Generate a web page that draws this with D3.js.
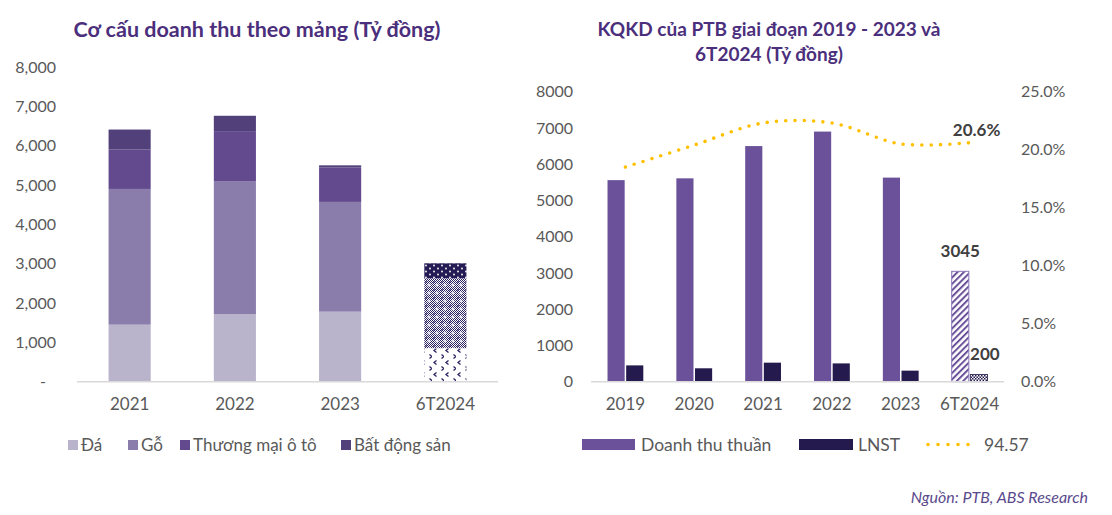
<!DOCTYPE html>
<html><head><meta charset="utf-8">
<script src="https://cdn.jsdelivr.net/npm/d3@7"></script>
<style>body{margin:0;background:#fff;} svg{display:block;font-family:Lato,'Open Sans',sans-serif;}</style>
</head><body><svg id="c" width="1112" height="515"></svg>
<script>
// ---------- data: left chart ----------
const segCategories = ["2021", "2022", "2023", "6T2024"];
const segKeys = ["Đá", "Gỗ", "Thương mại ô tô", "Bất động sản"];
const daValues = [1450, 1720, 1780, 850];
const goValues = [3450, 3380, 2790, 1780];
const tmValues = [1000, 1270, 880, 380];
const bdsValues = [510, 390, 50, 0];
const leftTicks = [0, 1000, 2000, 3000, 4000, 5000, 6000, 7000, 8000];
const leftTitle = "Cơ cấu doanh thu theo mảng (Tỷ đồng)";

// ---------- data: right chart ----------
const kqCategories = ["2019", "2020", "2021", "2022", "2023", "6T2024"];
const revenueValues = [5560, 5610, 6500, 6900, 5630, 3045];
const profitValues = [450, 370, 525, 505, 305, 200];
const marginValues = [0.185, 0.204, 0.223, 0.223, 0.205, 0.206];
const rightTicks = [0, 1000, 2000, 3000, 4000, 5000, 6000, 7000, 8000];
const pctTicks = [0, 0.05, 0.10, 0.15, 0.20, 0.25];
const rightTitle = ["KQKD của PTB giai đoạn 2019 - 2023 và", "6T2024 (Tỷ đồng)"];
const rightLegend = ["Doanh thu thuần", "LNST", "94.57"];
const sourceText = "Nguồn: PTB, ABS Research";

// ---------- styles ----------
const segColors = ["#b9b3cb", "#8a7dab", "#634a8e", "#52407a"];
const revColor = "#6a519a", lnstColor = "#251a4d", lineColor = "#ffc000";
const navy = "#2a2060";
const titleColor = "#4b2f7c", tickColor = "#595959", axisColor = "#d9d9d9";
const FONT = "Lato,'Open Sans',sans-serif";

const svg = d3.select("#c");
const defs = svg.append("defs");

// patterns
const pDa = defs.append("pattern").attr("id", "pDa").attr("patternUnits", "userSpaceOnUse")
  .attr("width", 12).attr("height", 12);
pDa.append("rect").attr("width", 12).attr("height", 12).attr("fill", "#fff");
pDa.append("path").attr("d", "M4.5,0.5 L2,2.5 L4.5,4.5 M9.5,6.5 L12,8.5 L9.5,10.5").attr("stroke", navy).attr("stroke-width", 1.3).attr("fill", "none");
const pGo = defs.append("pattern").attr("id", "pGo").attr("patternUnits", "userSpaceOnUse")
  .attr("width", 8).attr("height", 8);
pGo.append("rect").attr("width", 8).attr("height", 8).attr("fill", "#fff");
for (let i = 0; i < 8; i++) for (let j = 0; j < 8; j++) if ((i + j) % 2 === 0)
  pGo.append("rect").attr("x", i).attr("y", j).attr("width", 1).attr("height", 1).attr("fill", "#2a2064");
pGo.append("rect").attr("x", 1).attr("y", 1).attr("width", 1.5).attr("height", 1.5).attr("fill", "#2a2064");
pGo.append("path").attr("d", "M5,3.5 V6.5 M3.5,5 H6.5").attr("stroke", "#fff").attr("stroke-width", 1);
const pTm = defs.append("pattern").attr("id", "pTm").attr("patternUnits", "userSpaceOnUse")
  .attr("width", 8).attr("height", 6);
pTm.append("rect").attr("width", 8).attr("height", 6).attr("fill", "#241b55");
pTm.append("circle").attr("cx", 2).attr("cy", 1.5).attr("r", 0.9).attr("fill", "#fff");
pTm.append("circle").attr("cx", 6).attr("cy", 4.5).attr("r", 0.9).attr("fill", "#fff");
const pRev = defs.append("pattern").attr("id", "pRev").attr("patternUnits", "userSpaceOnUse")
  .attr("width", 4.5).attr("height", 4.5).attr("patternTransform", "rotate(45)");
pRev.append("rect").attr("width", 4.5).attr("height", 4.5).attr("fill", "#fff");
pRev.append("line").attr("x1", 1).attr("x2", 1).attr("y1", 0).attr("y2", 4.5).attr("stroke", revColor).attr("stroke-width", 2);
const pL = defs.append("pattern").attr("id", "pL").attr("patternUnits", "userSpaceOnUse")
  .attr("width", 3).attr("height", 3);
pL.append("rect").attr("width", 3).attr("height", 3).attr("fill", "#fff");
pL.append("rect").attr("width", 1.5).attr("height", 1.5).attr("fill", lnstColor);
pL.append("rect").attr("x", 1.5).attr("y", 1.5).attr("width", 1.5).attr("height", 1.5).attr("fill", lnstColor);
const segPatterns = ["url(#pDa)", "url(#pGo)", "url(#pTm)", "url(#pTm)"];

// ================= LEFT CHART =================
svg.append("text").attr("x", 257).attr("y", 37).attr("text-anchor", "middle")
  .attr("font-size", 21.5).attr("font-weight", 700).attr("fill", titleColor).text(leftTitle);

const xL = d3.scaleBand().domain(segCategories).range([77, 498]).paddingInner(0.6).paddingOuter(0.3);
const yL = d3.scaleLinear().domain([0, 8000]).range([381.7, 67]);

const segRows = segCategories.map((c, i) => ({cat: c, idx: i,
  "Đá": daValues[i], "Gỗ": goValues[i], "Thương mại ô tô": tmValues[i], "Bất động sản": bdsValues[i]}));
const stacked = d3.stack().keys(segKeys)(segRows);

stacked.forEach((layer, li) => {
  svg.append("g").selectAll("rect").data(layer).join("rect")
    .attr("x", d => xL(d.data.cat))
    .attr("width", xL.bandwidth())
    .attr("y", d => yL(d[1]))
    .attr("height", d => Math.max(0, yL(d[0]) - yL(d[1])))
    .attr("fill", d => d.data.cat === "6T2024" ? segPatterns[li] : segColors[li]);
});

const axL = svg.append("g").attr("transform", "translate(60,0)")
  .call(d3.axisLeft(yL).tickValues(leftTicks).tickSize(0).tickPadding(4)
    .tickFormat(d => d === 0 ? "-" : d3.format(",")(d)));
axL.select(".domain").remove();
axL.selectAll("text").attr("font-size", 16).attr("fill", tickColor).attr("font-family", FONT)
  .attr("dx", d => d === 0 ? -10 : 0);

svg.append("line").attr("x1", 77).attr("x2", 498).attr("y1", yL(0)).attr("y2", yL(0))
  .attr("stroke", axisColor).attr("stroke-width", 1.5);

const axLx = svg.append("g").attr("transform", `translate(0,${yL(0)})`)
  .call(d3.axisBottom(xL).tickSize(0).tickPadding(16));
axLx.select(".domain").remove();
axLx.selectAll("text").attr("font-size", 17).attr("fill", tickColor).attr("font-family", FONT);

// left legend
const legLX = [68, 128, 180, 341];
segKeys.forEach((k, i) => {
  svg.append("rect").attr("x", legLX[i]).attr("y", 440).attr("width", 10).attr("height", 10).attr("fill", segColors[i]);
  svg.append("text").attr("x", legLX[i] + 13).attr("y", 451).attr("font-size", 17).attr("fill", tickColor).text(k);
});

// ================= RIGHT CHART =================
rightTitle.forEach((t, i) => {
  svg.append("text").attr("x", 769).attr("y", 36 + i * 25).attr("text-anchor", "middle")
    .attr("font-size", 19).attr("font-weight", 700).attr("fill", titleColor).text(t);
});

const x0 = d3.scaleBand().domain(kqCategories).range([591, 1004]).paddingInner(0.48).paddingOuter(0.24);
const x1 = d3.scaleBand().domain(["rev", "lnst"]).range([0, x0.bandwidth()]).paddingInner(0.08);
const yR = d3.scaleLinear().domain([0, 8000]).range([381.7, 91.7]);
const yP = d3.scaleLinear().domain([0, 0.25]).range([381.7, 91.7]);

const kqRows = kqCategories.map((c, i) => ({cat: c, rev: revenueValues[i], lnst: profitValues[i], m: marginValues[i]}));
const last = kqCategories[kqCategories.length - 1];

svg.append("g").selectAll("rect").data(kqRows).join("rect")
  .attr("x", d => x0(d.cat) + x1("rev")).attr("width", x1.bandwidth())
  .attr("y", d => yR(d.rev)).attr("height", d => yR(0) - yR(d.rev))
  .attr("fill", d => d.cat === last ? "url(#pRev)" : revColor)
  .attr("stroke", d => d.cat === last ? "#8c78b8" : "none").attr("stroke-width", 1);
svg.append("g").selectAll("rect").data(kqRows).join("rect")
  .attr("x", d => x0(d.cat) + x1("lnst")).attr("width", x1.bandwidth())
  .attr("y", d => yR(d.lnst)).attr("height", d => yR(0) - yR(d.lnst))
  .attr("fill", d => d.cat === last ? "url(#pL)" : lnstColor)
  .attr("stroke", d => d.cat === last ? lnstColor : "none").attr("stroke-width", 0.8);

svg.append("line").attr("x1", 591).attr("x2", 1004).attr("y1", yR(0)).attr("y2", yR(0))
  .attr("stroke", axisColor).attr("stroke-width", 1.5);

const line = d3.line().x(d => x0(d.cat) + x0.bandwidth() / 2).y(d => yP(d.m)).curve(d3.curveCatmullRom.alpha(0.5));
svg.append("path").datum(kqRows).attr("d", line).attr("fill", "none")
  .attr("stroke", lineColor).attr("stroke-width", 3.6).attr("stroke-linecap", "round").attr("stroke-dasharray", "0 9.3");

// data labels
const lr = kqRows[kqRows.length - 1];
svg.append("text").attr("x", x0(lr.cat) + x1("rev") + x1.bandwidth() / 2).attr("y", yR(lr.rev) - 14)
  .attr("text-anchor", "middle").attr("font-size", 17).attr("font-weight", 700).attr("fill", "#404040").text(lr.rev);
svg.append("text").attr("x", x0(lr.cat) + x1("lnst") + x1.bandwidth() / 2 + 6).attr("y", yR(lr.lnst) - 14)
  .attr("text-anchor", "middle").attr("font-size", 17).attr("font-weight", 700).attr("fill", "#404040").text(lr.lnst);
svg.append("text").attr("x", x0(lr.cat) + x0.bandwidth() / 2 + 7).attr("y", yP(lr.m) - 7)
  .attr("text-anchor", "middle").attr("font-size", 17).attr("font-weight", 700).attr("fill", "#404040")
  .text(d3.format(".1%")(lr.m));

const axR1 = svg.append("g").attr("transform", "translate(577,0)")
  .call(d3.axisLeft(yR).tickValues(rightTicks).tickSize(0).tickPadding(4).tickFormat(d3.format("d")));
axR1.select(".domain").remove();
axR1.selectAll("text").attr("font-size", 16).attr("fill", tickColor).attr("font-family", FONT);

const axR2 = svg.append("g").attr("transform", "translate(1017,0)")
  .call(d3.axisRight(yP).tickValues(pctTicks).tickSize(0).tickPadding(4).tickFormat(d3.format(".1%")));
axR2.select(".domain").remove();
axR2.selectAll("text").attr("font-size", 16).attr("fill", tickColor).attr("font-family", FONT);

const axRx = svg.append("g").attr("transform", `translate(0,${yR(0)})`)
  .call(d3.axisBottom(x0).tickSize(0).tickPadding(16));
axRx.select(".domain").remove();
axRx.selectAll("text").attr("font-size", 17).attr("fill", tickColor).attr("font-family", FONT);

// right legend
svg.append("rect").attr("x", 582).attr("y", 439).attr("width", 53).attr("height", 11).attr("fill", revColor);
svg.append("text").attr("x", 641).attr("y", 451).attr("font-size", 17.5).attr("fill", tickColor).text(rightLegend[0]);
svg.append("rect").attr("x", 799).attr("y", 439).attr("width", 54).attr("height", 11).attr("fill", lnstColor);
svg.append("text").attr("x", 858).attr("y", 451).attr("font-size", 17.5).attr("fill", tickColor).text(rightLegend[1]);
svg.append("line").attr("x1", 928).attr("x2", 978).attr("y1", 444.5).attr("y2", 444.5)
  .attr("stroke", lineColor).attr("stroke-width", 3.6).attr("stroke-linecap", "round").attr("stroke-dasharray", "0 10");
svg.append("text").attr("x", 984).attr("y", 451).attr("font-size", 17.5).attr("fill", tickColor).text(rightLegend[2]);

svg.append("text").attr("x", 1088).attr("y", 503).attr("text-anchor", "end").attr("font-size", 16)
  .attr("font-style", "italic").attr("fill", "#5a4a8c").text(sourceText);
</script></body></html>
